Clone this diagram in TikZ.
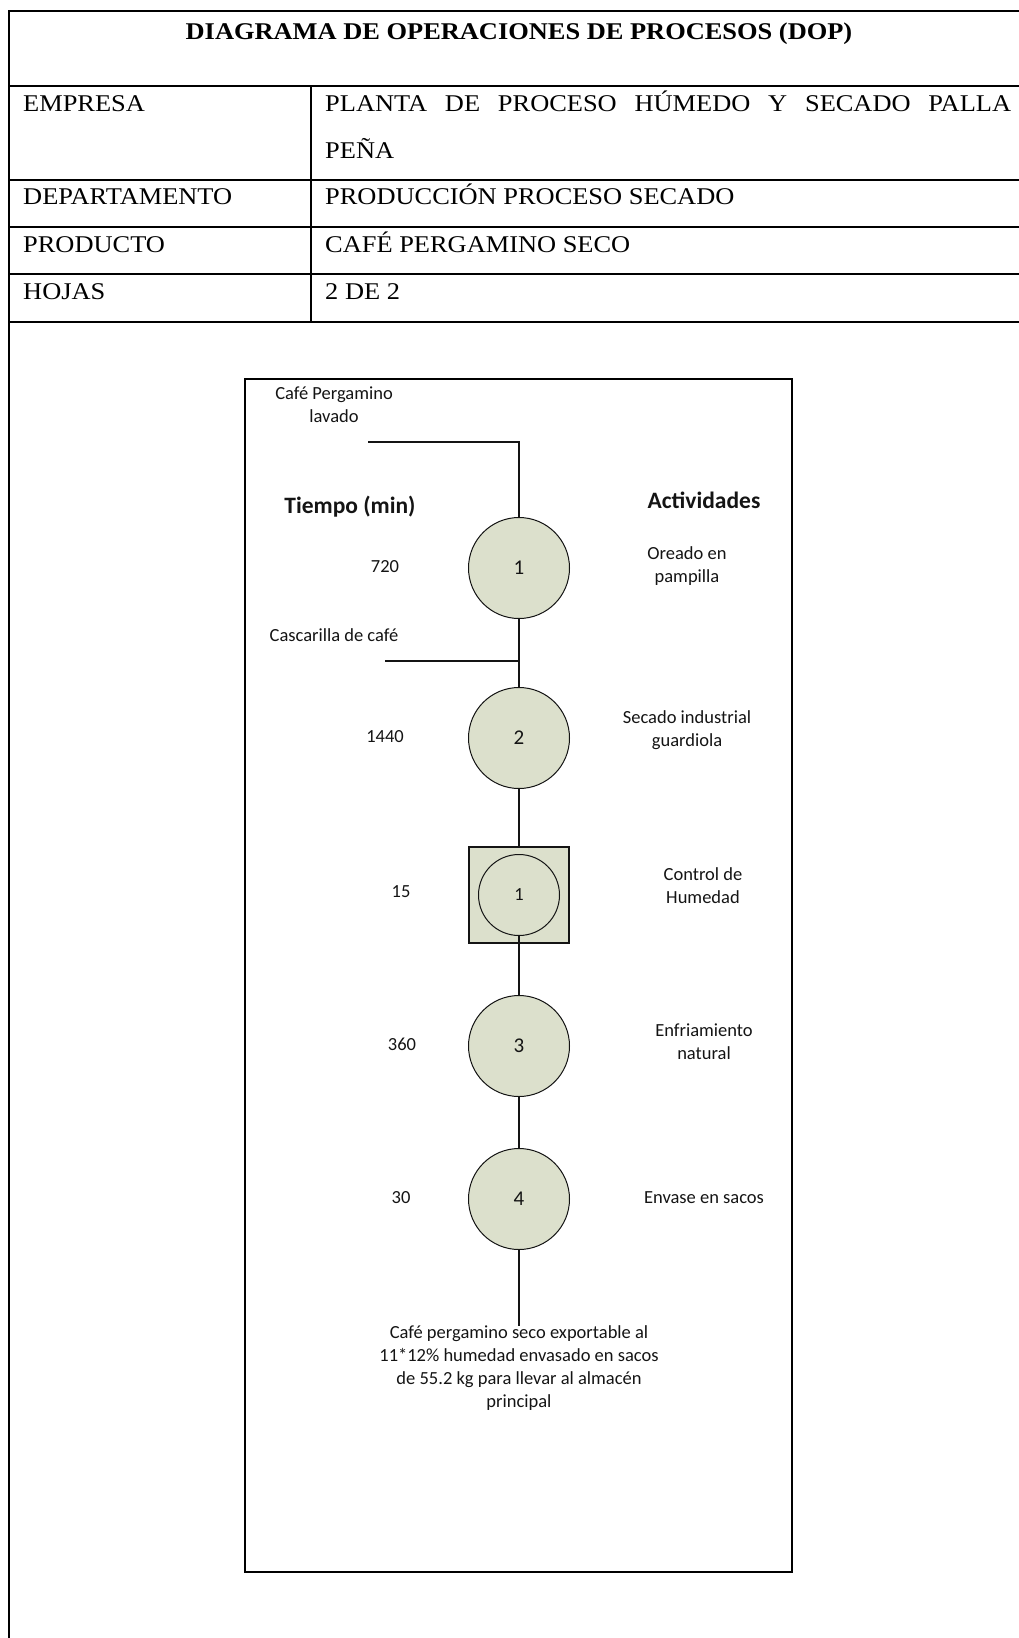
\documentclass[tikz,border=0pt]{standalone}
\usepackage{graphicx}
\usepackage{fontspec}
\setmainfont{Liberation Serif}
\newfontfamily\carlito{Carlito}
\definecolor{opfill}{RGB}{220,224,204}
\definecolor{inkc}{RGB}{20,20,20}
% slightly widened serif lettering used in the header table
\newcommand{\wide}[1]{\scalebox{1.1}[1]{#1}}

\begin{document}
\begin{tikzpicture}[x=1pt,y=-1pt,
  rule/.style={line width=2pt, black},
  frame/.style={line width=2.7pt, black},
  conn/.style={line width=1.5pt, inkc},
  cell/.style={font=\fontsize{24}{28}\selectfont, inner sep=0pt, anchor=base west},
  celltitle/.style={font=\bfseries\fontsize{24}{28}\selectfont, inner sep=0pt, anchor=base},
  lbl/.style={font=\carlito\fontsize{18.5}{23}\selectfont, text=inkc, align=center,
    inner sep=0pt, execute at begin node=\strut, execute at end node=\strut},
  hdr/.style={font=\carlito\bfseries\fontsize{23.5}{28}\selectfont, text=inkc,
    inner sep=0pt, execute at begin node=\strut},
  opcircle/.style={circle, draw=inkc, line width=1pt, fill=opfill, minimum size=101pt,
    inner sep=0pt, font=\carlito\fontsize{21}{25}\selectfont, text=inkc},
  inspbox/.style={rectangle, draw=inkc, line width=1.2pt, fill=opfill,
    minimum width=100pt, minimum height=96pt, inner sep=0pt},
  inspcircle/.style={circle, draw=inkc, line width=1pt, fill=opfill, minimum size=81pt,
    inner sep=0pt, font=\carlito\fontsize{18.5}{22}\selectfont, text=inkc}
]
\useasboundingbox (0,0) rectangle (1019,1638);

% ---------- header table ----------
\draw[rule] (1019,11) -- (9,11) -- (9,1638);
\foreach \yy in {86,180,227,274,322}
  \draw[rule] (9,\yy) -- (1019,\yy);
\draw[rule] (311,86) -- (311,322);

\node[celltitle] (title) at (519,39) {\wide{DIAGRAMA DE OPERACIONES DE PROCESOS (DOP)}};

\node[cell] (kEmp)  at (23,111) {\wide{EMPRESA}};
\node[cell] (kDep)  at (23,204) {\wide{DEPARTAMENTO}};
\node[cell] (kProd) at (23,252) {\wide{PRODUCTO}};
\node[cell] (kHoj)  at (23,299) {\wide{HOJAS}};

\node[cell] (vEmpA) at (325,111) {\wide{\makebox[623.6pt][s]{PLANTA DE PROCESO HÚMEDO Y SECADO PALLA}}};
\node[cell] (vEmpB) at (325,158) {\wide{PEÑA}};
\node[cell] (vDep)  at (325,204) {\wide{PRODUCCIÓN PROCESO SECADO}};
\node[cell] (vProd) at (325,252) {\wide{CAFÉ PERGAMINO SECO}};
\node[cell] (vHoj)  at (325,299) {\wide{2 DE 2}};

% ---------- process chart ----------
\draw[frame] (245,379) rectangle (792,1572);

\node[opcircle] (op1) at (519,568) {1};
\node[opcircle] (op2) at (519,738) {2};
\node[inspbox] (insp) at (519,895) {};
\node[inspcircle] (inspc) at (519,895) {1};
\node[opcircle] (op3) at (519,1046) {3};
\node[opcircle] (op4) at (519,1199) {4};

\coordinate (inA) at (368,442);
\coordinate (inB) at (385,661);
\coordinate (outC) at (519,1326);

\draw[conn] (inA) -| (op1.north);
\draw[conn] (op1.south) -- (op2.north);
\draw[conn] (inB) -- (inB -| op2.north);
\draw[conn] (op2.south) -- (insp.north);
\draw[conn] (inspc.south) -- (op3.north);
\draw[conn] (op3.south) -- (op4.north);
\draw[conn] (op4.south) -- (outC);

% input materials
\node[lbl] (matA) at (334,408.5) {Café Pergamino\\lavado};
\node[lbl] (matB) at (334,637) {Cascarilla de café};

% column headings
\node[hdr] (hTime) at (350,508) {Tiempo (min)};
\node[hdr] (hAct)  at (704,503) {Actividades};

% times
\node[lbl] (t1) at (385,568)  {720};
\node[lbl] (t2) at (385,738)  {1440};
\node[lbl] (t3) at (401,893)  {15};
\node[lbl] (t4) at (402,1046) {360};
\node[lbl] (t5) at (401,1199) {30};

% activities
\node[lbl] (a1) at (687,568)    {Oreado en\\pampilla};
\node[lbl] (a2) at (687,732.5)  {Secado industrial\\guardiola};
\node[lbl] (a3) at (703,889.5)  {Control de\\Humedad};
\node[lbl] (a4) at (704,1045.5) {Enfriamiento\\natural};
\node[lbl] (a5) at (704,1199)   {Envase en sacos};

% final product
\node[lbl] (prod) at (519,1370) {Café pergamino seco exportable al\\11*12\% humedad envasado en sacos\\de 55.2 kg para llevar al almacén\\principal};
\end{tikzpicture}
\end{document}
